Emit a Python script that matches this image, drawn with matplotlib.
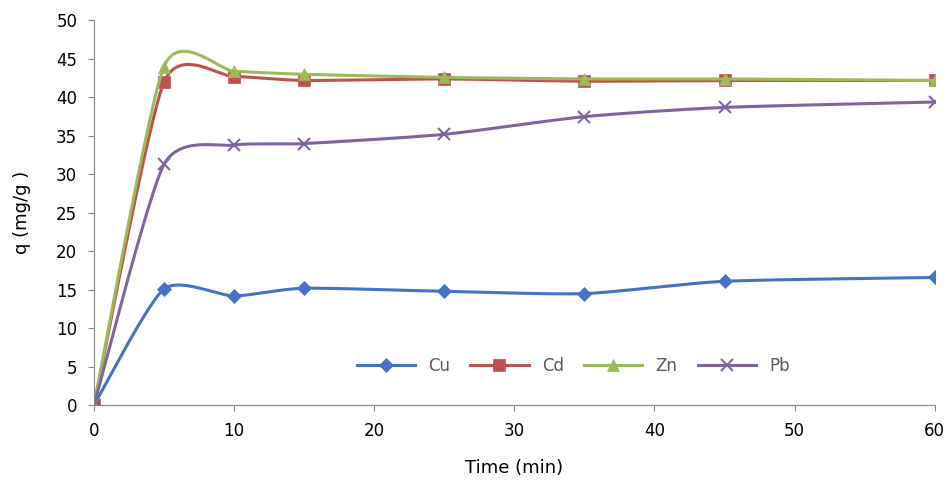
import numpy as np
import matplotlib
matplotlib.use("Agg")
import matplotlib.pyplot as plt

time_min = [0, 5, 10, 15, 25, 35, 45, 60]
cu = [0, 15.1, 14.2, 15.2, 14.8, 14.5, 16.1, 16.6]
cd = [0, 42.0, 42.7, 42.2, 42.4, 42.1, 42.2, 42.2]
zn = [0, 44.0, 43.4, 43.0, 42.6, 42.4, 42.4, 42.2]
pb = [0, 31.3, 33.8, 34.0, 35.2, 37.5, 38.7, 39.4]


def smooth(x, y, n=30, k=0.33):
    # Excel-like smoothed line (cardinal spline through the points)
    x = np.asarray(x, float)
    y = np.asarray(y, float)
    px = np.concatenate([[x[0]], x, [x[-1]]])
    py = np.concatenate([[y[0]], y, [y[-1]]])
    xs, ys = [], []
    t = np.linspace(0, 1, n)
    for i in range(1, len(px) - 2):
        for p, out in ((px, xs), (py, ys)):
            p0, p1, p2, p3 = p[i - 1], p[i], p[i + 1], p[i + 2]
            m1 = (p2 - p0) * k
            m2 = (p3 - p1) * k
            h00 = 2 * t**3 - 3 * t**2 + 1
            h10 = t**3 - 2 * t**2 + t
            h01 = -2 * t**3 + 3 * t**2
            h11 = t**3 - t**2
            out.extend(h00 * p1 + h10 * m1 + h01 * p2 + h11 * m2)
    return xs, ys


fig = plt.figure(figsize=(9.49, 4.87), dpi=100)
ax = fig.add_axes([0.099, 0.168, 0.886, 0.79])

series = [
    ("Cu", cu, "#4472C4", "D", 7),
    ("Cd", cd, "#C0504D", "s", 8),
    ("Zn", zn, "#9BBB59", "^", 9),
    ("Pb", pb, "#8064A2", "x", 8),
]
for name, vals, color, marker, ms in series:
    sx, sy = smooth(time_min, vals)
    ax.plot(sx, sy, color=color, lw=2.2)
    ax.plot(time_min, vals, linestyle="none", marker=marker, ms=ms, color=color,
            mew=1.5 if marker == "x" else 0.5)
    ax.plot([], [], color=color, lw=2.2, marker=marker, ms=ms, label=name,
            mew=1.5 if marker == "x" else 0.5)

ax.set_xlim(0, 60)
ax.set_ylim(0, 50)
ax.set_xticks(range(0, 61, 10))
ax.set_yticks(range(0, 51, 5))
for s in ("top", "right"):
    ax.spines[s].set_visible(False)
for s in ("left", "bottom"):
    ax.spines[s].set_color("#868686")
ax.tick_params(labelsize=12, color="#868686", direction="out", length=4, pad=8)
ax.set_xlabel("Time (min)", fontsize=13, labelpad=14)
ax.set_ylabel("q (mg/g )", fontsize=13, labelpad=18)
ax.legend(loc="lower center", bbox_to_anchor=(0.57, 0.04), ncol=4, frameon=False,
          fontsize=12, handlelength=3.5, labelcolor="#595959", columnspacing=1.2)

fig.savefig("out.png")
